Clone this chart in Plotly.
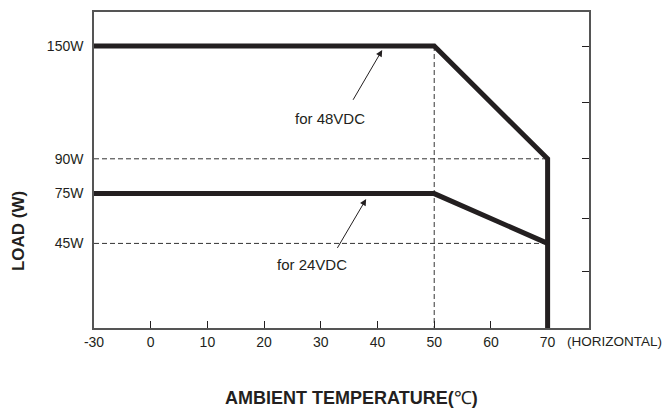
import numpy as np
import plotly.graph_objects as go

# ---------------- data ----------------
temp_ticks = [-30, 0, 10, 20, 30, 40, 50, 60, 70]
load_tick_vals = [45, 75, 90, 150]
load_tick_text = ["45W", "75W", "90W", "150W"]
right_tick_vals = [0, 30, 60, 90, 120, 150]

temp_48 = [-30, 50, 70, 70]
load_48 = [150, 150, 90, 0]
temp_24 = [-30, 50, 70]
load_24 = [75, 75, 45]

ref_h_loads = [90, 45]      # dashed guide lines
ref_v_temp = 50

# ------------- schematic axis mapping -------------
# The printed chart compresses -30..0 into one 10-degree slot and
# places the 75W label slightly lower than a linear scale would.
X_ANCH_VAL = [-30, 0, 100]
X_ANCH_POS = [-10, 0, 100]
Y_ANCH_VAL = [0, 45, 75, 90, 150, 200]
Y_ANCH_POS = [0, 45, 71.5, 90, 150, 200]


def tx(v):
    return list(np.interp(v, X_ANCH_VAL, X_ANCH_POS))


def ty(v):
    return list(np.interp(v, Y_ANCH_VAL, Y_ANCH_POS))


INK = "#231f20"
FONT = "Liberation Sans, Arial, sans-serif"

fig = go.Figure()

# dashed guide lines
for L in ref_h_loads:
    fig.add_trace(go.Scatter(x=tx([-30, 70]), y=ty([L, L]), mode="lines",
                             line=dict(color="#333333", width=1, dash="5px,3px"),
                             hoverinfo="skip", showlegend=False))
fig.add_trace(go.Scatter(x=tx([ref_v_temp, ref_v_temp]), y=ty([150, 0]), mode="lines",
                         line=dict(color="#333333", width=1, dash="5px,3px"),
                         hoverinfo="skip", showlegend=False))

# derating curves
fig.add_trace(go.Scatter(x=tx(temp_48), y=ty(load_48), mode="lines",
                         line=dict(color=INK, width=5), showlegend=False, name="48VDC"))
fig.add_trace(go.Scatter(x=tx(temp_24), y=ty(load_24), mode="lines",
                         line=dict(color=INK, width=5), showlegend=False, name="24VDC"))

# invisible trace to activate right axis
fig.add_trace(go.Scatter(x=[0], y=[0], yaxis="y2", mode="markers",
                         marker=dict(opacity=0), hoverinfo="skip", showlegend=False))

X_RANGE = [-10, 77.3]
Y_RANGE = [0, 168.1]

fig.update_layout(
    width=666, height=414,
    margin=dict(l=94, r=77, t=10, b=86),
    paper_bgcolor="white", plot_bgcolor="white",
    font=dict(family=FONT, color=INK, size=14),
    xaxis=dict(range=X_RANGE, tickvals=tx(temp_ticks), ticktext=[str(t) for t in temp_ticks],
               ticks="inside", ticklen=7, tickcolor=INK, tickwidth=1,
               showgrid=False, zeroline=False,
               showline=True, linecolor="#555555", linewidth=1.5, mirror=True,
               tickfont=dict(size=14, color=INK)),
    yaxis=dict(range=Y_RANGE, tickvals=ty(load_tick_vals), ticktext=load_tick_text,
               ticks="", showgrid=False, zeroline=False,
               showline=True, linecolor="#555555", linewidth=1.5, mirror=True,
               ticklabelstandoff=6,
               tickfont=dict(size=14, color=INK)),
    yaxis2=dict(range=Y_RANGE, overlaying="y", side="right", tickvals=ty(right_tick_vals),
                ticks="inside", ticklen=7, tickcolor=INK, tickwidth=1,
                showticklabels=False, showgrid=False, zeroline=False, showline=False),
)

ann = []
# arrows with labels
ann.append(dict(x=40.83, y=147.9, ax=35.54, ay=120.6, xref="x", yref="y", axref="x", ayref="y",
                text="", showarrow=True, arrowhead=2, arrowsize=1.3, arrowwidth=1, arrowcolor=INK))
ann.append(dict(x=31.56, y=111.6, xref="x", yref="y", text="for 48VDC", showarrow=False,
                font=dict(size=15, color=INK)))
ann.append(dict(x=38.0, y=68.6, ax=32.77, ay=41.8, xref="x", yref="y", axref="x", ayref="y",
                text="", showarrow=True, arrowhead=2, arrowsize=1.3, arrowwidth=1, arrowcolor=INK))
ann.append(dict(x=28.36, y=33.8, xref="x", yref="y", text="for 24VDC", showarrow=False,
                font=dict(size=15, color=INK)))
# axis titles
ann.append(dict(x=(18 - 94) / 495, y=(328 - 230.5) / 318, xref="paper", yref="paper",
                text="<b>LOAD (W)</b>", textangle=-90, showarrow=False,
                xanchor="center", yanchor="middle", font=dict(size=17, color=INK)))
ann.append(dict(x=(351.5 - 94) / 495, y=(328 - 398) / 318, xref="paper", yref="paper",
                text="<b>AMBIENT TEMPERATURE(</b>℃<b>)</b>", showarrow=False,
                xanchor="center", yanchor="middle", font=dict(size=18, color=INK)))
ann.append(dict(x=(566 - 94) / 495, y=(328 - 342) / 318, xref="paper", yref="paper",
                text="(HORIZONTAL)", showarrow=False, xanchor="left", yanchor="middle",
                borderpad=0, font=dict(size=13.5, color=INK)))
fig.update_layout(annotations=ann)

fig.write_html("out.html", config={"displayModeBar": False},
               post_script="document.body.style.margin='0';document.body.style.overflow='hidden';")
